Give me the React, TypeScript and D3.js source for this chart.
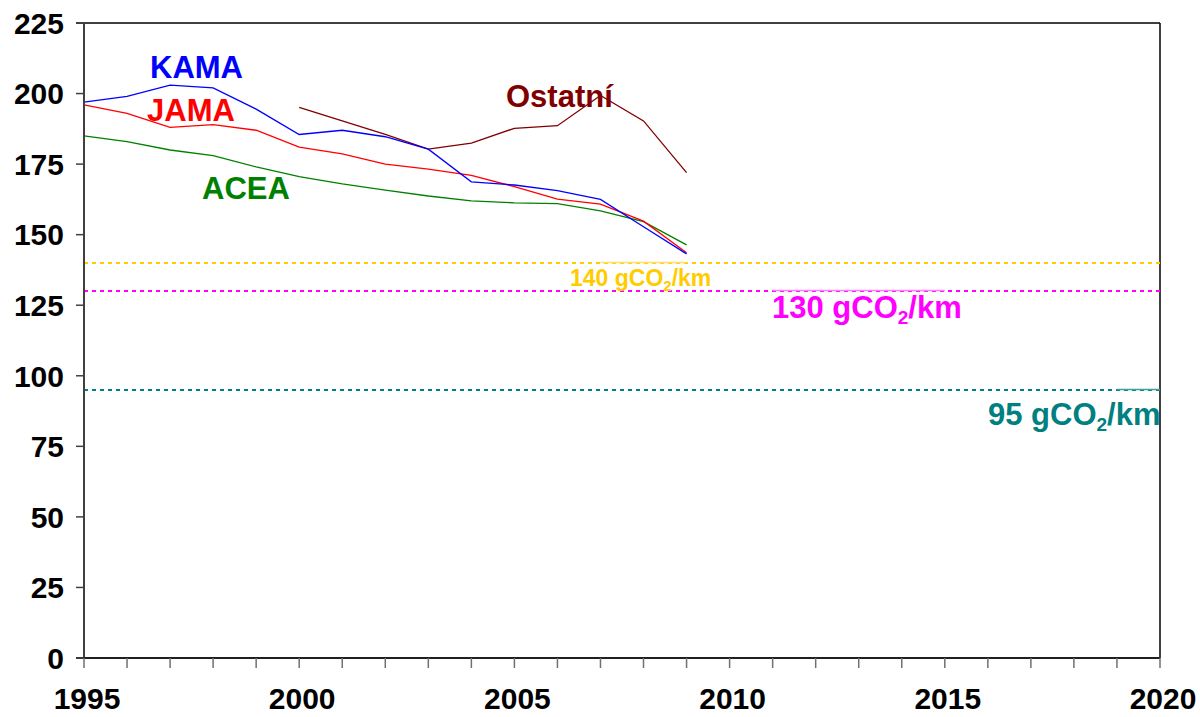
import React from "react";
import * as d3 from "d3";

const years = [1995, 1996, 1997, 1998, 1999, 2000, 2001, 2002, 2003, 2004, 2005, 2006, 2007, 2008, 2009];
const kama = [197, 199, 203, 202, 194.5, 185.5, 187, 184.7, 180.3, 168.7, 167.6, 165.6, 162.5, 152.8, 143.2];
const jama = [196, 193, 188, 189, 187, 181, 178.6, 175, 173.2, 171, 167, 162.6, 160.8, 154.8, 143.6];
const acea = [185, 183, 180, 178, 174, 170.6, 168, 165.8, 163.7, 162, 161.3, 161, 158.4, 154.6, 146.4];
const ostatniYears = [2000, 2001, 2002, 2003, 2004, 2005, 2006, 2007, 2008, 2009];
const ostatni = [195.1, 190.3, 185.5, 180.3, 182.4, 187.7, 188.6, 199.3, 190.3, 172];

const yTicks = [0, 25, 50, 75, 100, 125, 150, 175, 200, 225];
const xLabelYears = [1995, 2000, 2005, 2010, 2015, 2020];

const targets = [
  { value: 140, from: 2007, to: 2009, color: "#FFCC00", light: "#FFE066" },
  { value: 130, from: 2011, to: 2015, color: "#FF00FF", light: "#FF80FF" },
  { value: 95, from: 2019, to: 2020, color: "#008080", light: "#40A0A0" },
];

const W = 1200;
const H = 717;
const left = 84;
const right = 1160;
const top = 23;
const bottom = 658;

export default function App() {
  const x = d3.scaleLinear().domain([1995, 2020]).range([left, right]);
  const y = d3.scaleLinear().domain([0, 225]).range([bottom, top]);
  const line = d3
    .line<[number, number]>()
    .x((d) => x(d[0]))
    .y((d) => y(d[1]));
  const pairs = (xs: number[], vs: number[]) => xs.map((yr, i) => [yr, vs[i]] as [number, number]);
  const font = "'Liberation Sans', Arial, sans-serif";
  const allYears = d3.range(1995, 2021);

  return (
    <div style={{ position: "absolute", left: 0, top: 0 }}>
      <svg width={W} height={H} style={{ display: "block", background: "#fff" }} fontFamily={font}>
        {/* frame */}
        <line x1={left - 8} x2={right} y1={top} y2={top} stroke="#000" strokeWidth={1.5} />
        <line x1={right} x2={right} y1={top} y2={bottom} stroke="#000" strokeWidth={1.5} />
        {/* target lines */}
        {targets.map((t) => (
          <g key={t.value}>
            <line x1={left} x2={right} y1={y(t.value)} y2={y(t.value)} stroke={t.color} strokeWidth={2} strokeDasharray="4,4" />
            <line x1={x(t.from)} x2={x(t.to)} y1={y(t.value) - 0.5} y2={y(t.value) - 0.5} stroke={t.light} strokeWidth={1.5} />
          </g>
        ))}
        {/* series */}
        <path d={line(pairs(ostatniYears, ostatni)) || ""} fill="none" stroke="#800000" strokeWidth={1.3} />
        <path d={line(pairs(years, acea)) || ""} fill="none" stroke="#008000" strokeWidth={1.3} />
        <path d={line(pairs(years, jama)) || ""} fill="none" stroke="#FF0000" strokeWidth={1.3} />
        <path d={line(pairs(years, kama)) || ""} fill="none" stroke="#0000FF" strokeWidth={1.3} />
        {/* axes */}
        <line x1={left} x2={left} y1={top} y2={bottom} stroke="#404040" strokeWidth={2} />
        <line x1={left - 8} x2={right} y1={bottom} y2={bottom} stroke="#202020" strokeWidth={2} />
        {yTicks.map((v) => (
          <g key={v}>
            <line x1={left - 8} x2={left} y1={y(v)} y2={y(v)} stroke="#404040" strokeWidth={1.5} />
            <text x={64} y={y(v)} dy="0.36em" textAnchor="end" fontSize={30} fontWeight="bold" fill="#000">
              {v}
            </text>
          </g>
        ))}
        {allYears.map((yr) => (
          <line key={yr} x1={x(yr)} x2={x(yr)} y1={bottom} y2={bottom + 10} stroke="#707070" strokeWidth={1.5} />
        ))}
        {xLabelYears.map((yr) => (
          <text key={yr} x={x(yr) + 3} y={709} textAnchor="middle" fontSize={30} fontWeight="bold" fill="#000">
            {yr}
          </text>
        ))}
        {/* series labels */}
        <text x={150} y={78} fontSize={31} fontWeight="bold" fill="#0000FF">KAMA</text>
        <text x={147} y={121} fontSize={31} fontWeight="bold" fill="#FF0000">JAMA</text>
        <text x={202} y={199} fontSize={31} fontWeight="bold" fill="#008000">ACEA</text>
        <text x={506} y={107} fontSize={31} fontWeight="bold" fill="#800000">Ostatní</text>
        {/* target labels */}
        <text x={570} y={286} fontSize={23} fontWeight="bold" fill="#FFCC00">
          140 gCO<tspan fontSize={15} dy={5}>2</tspan><tspan dy={-5}>/km</tspan>
        </text>
        <text x={772} y={318} fontSize={31} fontWeight="bold" fill="#FF00FF">
          130 gCO<tspan fontSize={19} dy={6}>2</tspan><tspan dy={-6}>/km</tspan>
        </text>
        <text x={988} y={425} fontSize={31} fontWeight="bold" fill="#008080">
          95 gCO<tspan fontSize={19} dy={6}>2</tspan><tspan dy={-6}>/km</tspan>
        </text>
      </svg>
    </div>
  );
}
